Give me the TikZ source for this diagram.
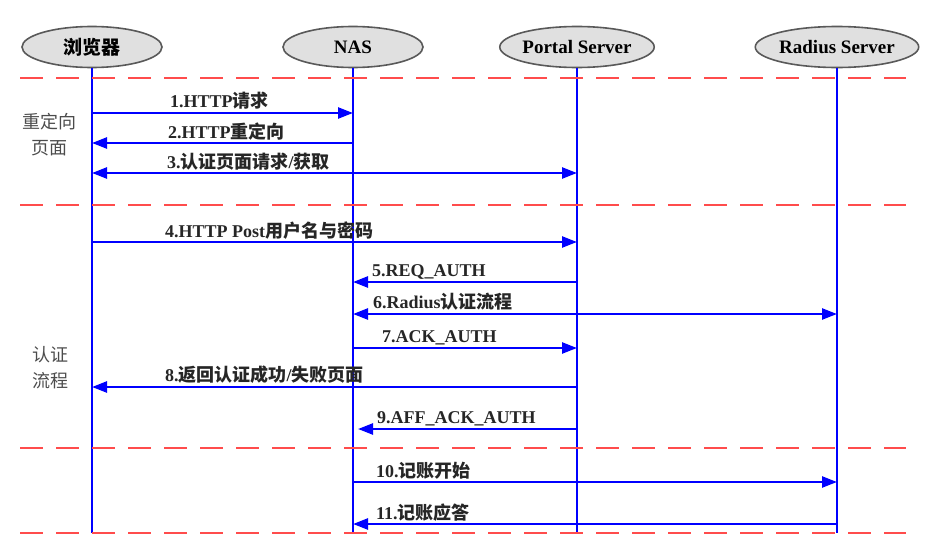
\documentclass[tikz,border=0pt]{standalone}
\usepackage{fontspec}
\setmainfont{Liberation Serif}
\newfontfamily\cjk{Noto Sans CJK SC}
\usetikzlibrary{shapes.geometric,arrows.meta}
\newcommand{\zh}[1]{{\cjk #1}}

\begin{document}
\begin{tikzpicture}[x=1pt, y=-1pt, >={Triangle[length=15pt,width=11pt]},
    actor/.style = {draw=black!65, fill=black!12, ellipse, line width=1.6pt, minimum width=140pt, minimum height=41pt, inner sep=0pt, font=\fontsize{19}{22}\selectfont\bfseries},
    life/.style = {draw=blue, line width=2.4pt},
    msg/.style = {draw=blue, line width=2.4pt, ->},
    sep/.style = {draw=red!70!white, line width=2.4pt, dash pattern=on 23pt off 13pt},
    lbl/.style = {anchor=base west, inner sep=0pt, text=black!85, font=\fontsize{18}{22}\selectfont\bfseries},
    phase/.style = {align=center, text=black!70, font=\fontsize{18}{26}\selectfont}]
    \useasboundingbox (0,0) rectangle (946,557);

    % actors and lifelines
    \node[actor] (browser) at (92,47) {\zh{浏览器}};
    \node[actor] (nas) at (353,47) {NAS};
    \node[actor] (portal) at (577,47) {Portal Server};
    \node[actor] (radius) at (837,47) {Radius Server};
    \coordinate (browserend) at (92,533);
    \coordinate (nasend) at (353,533);
    \coordinate (portalend) at (577,533);
    \coordinate (radiusend) at (837,533);
    \draw[life] (browser) -- (browserend);
    \draw[life] (nas) -- (nasend);
    \draw[life] (portal) -- (portalend);
    \draw[life] (radius) -- (radiusend);

    % separators
    \coordinate (s1a) at (20,78);
    \coordinate (s1b) at (906,78);
    \coordinate (s2a) at (20,205);
    \coordinate (s2b) at (906,205);
    \coordinate (s3a) at (20,448);
    \coordinate (s3b) at (906,448);
    \coordinate (s4a) at (20,533);
    \coordinate (s4b) at (906,533);
    \draw[sep] (s1a) -- (s1b);
    \draw[sep] (s2a) -- (s2b);
    \draw[sep] (s3a) -- (s3b);
    \draw[sep] (s4a) -- (s4b);

    % phases
    \node[phase] (redirect) at (50,135) {\zh{重定向}\\\zh{页面}};
    \node[phase] (auth) at (50,368) {\zh{认证}\\\zh{流程}};

    % messages
    \coordinate (b1) at (92,113);
    \coordinate (n1) at (353,113);
    \coordinate (n2) at (353,143);
    \coordinate (b2) at (92,143);
    \coordinate (b3) at (92,173);
    \coordinate (p3) at (577,173);
    \coordinate (b4) at (92,242);
    \coordinate (p4) at (577,242);
    \coordinate (p5) at (577,282);
    \coordinate (n5) at (353,282);
    \coordinate (n6) at (353,314);
    \coordinate (r6) at (837,314);
    \coordinate (n7) at (353,348);
    \coordinate (p7) at (577,348);
    \coordinate (p8) at (577,387);
    \coordinate (b8) at (92,387);
    \coordinate (p9) at (577,429);
    \coordinate (n9) at (358,429);
    \coordinate (n10) at (353,482);
    \coordinate (r10) at (837,482);
    \coordinate (r11) at (837,524);
    \coordinate (n11) at (353,524);

    \draw[msg] (b1) -- (n1);
    \draw[msg] (n2) -- (b2);
    \draw[msg, <->] (b3) -- (p3);
    \draw[msg] (b4) -- (p4);
    \draw[msg] (p5) -- (n5);
    \draw[msg, <->] (n6) -- (r6);
    \draw[msg] (n7) -- (p7);
    \draw[msg] (p8) -- (b8);
    \draw[msg] (p9) -- (n9);
    \draw[msg] (n10) -- (r10);
    \draw[msg] (r11) -- (n11);

    \node[lbl] (l1) at (170,107) {1.HTTP\zh{请求}};
    \node[lbl] (l2) at (168,138) {2.HTTP\zh{重定向}};
    \node[lbl] (l3) at (167,168) {3.\zh{认证页面请求}/\zh{获取}};
    \node[lbl] (l4) at (165,237) {4.HTTP Post\zh{用户名与密码}};
    \node[lbl] (l5) at (372,276) {5.REQ\_AUTH};
    \node[lbl] (l6) at (373,308) {6.Radius\zh{认证流程}};
    \node[lbl] (l7) at (382,342) {7.ACK\_AUTH};
    \node[lbl] (l8) at (165,381) {8.\zh{返回认证成功}/\zh{失败页面}};
    \node[lbl] (l9) at (377,423) {9.AFF\_ACK\_AUTH};
    \node[lbl] (l10) at (376,477) {10.\zh{记账开始}};
    \node[lbl] (l11) at (376,519) {11.\zh{记账应答}};
\end{tikzpicture}
\end{document}
